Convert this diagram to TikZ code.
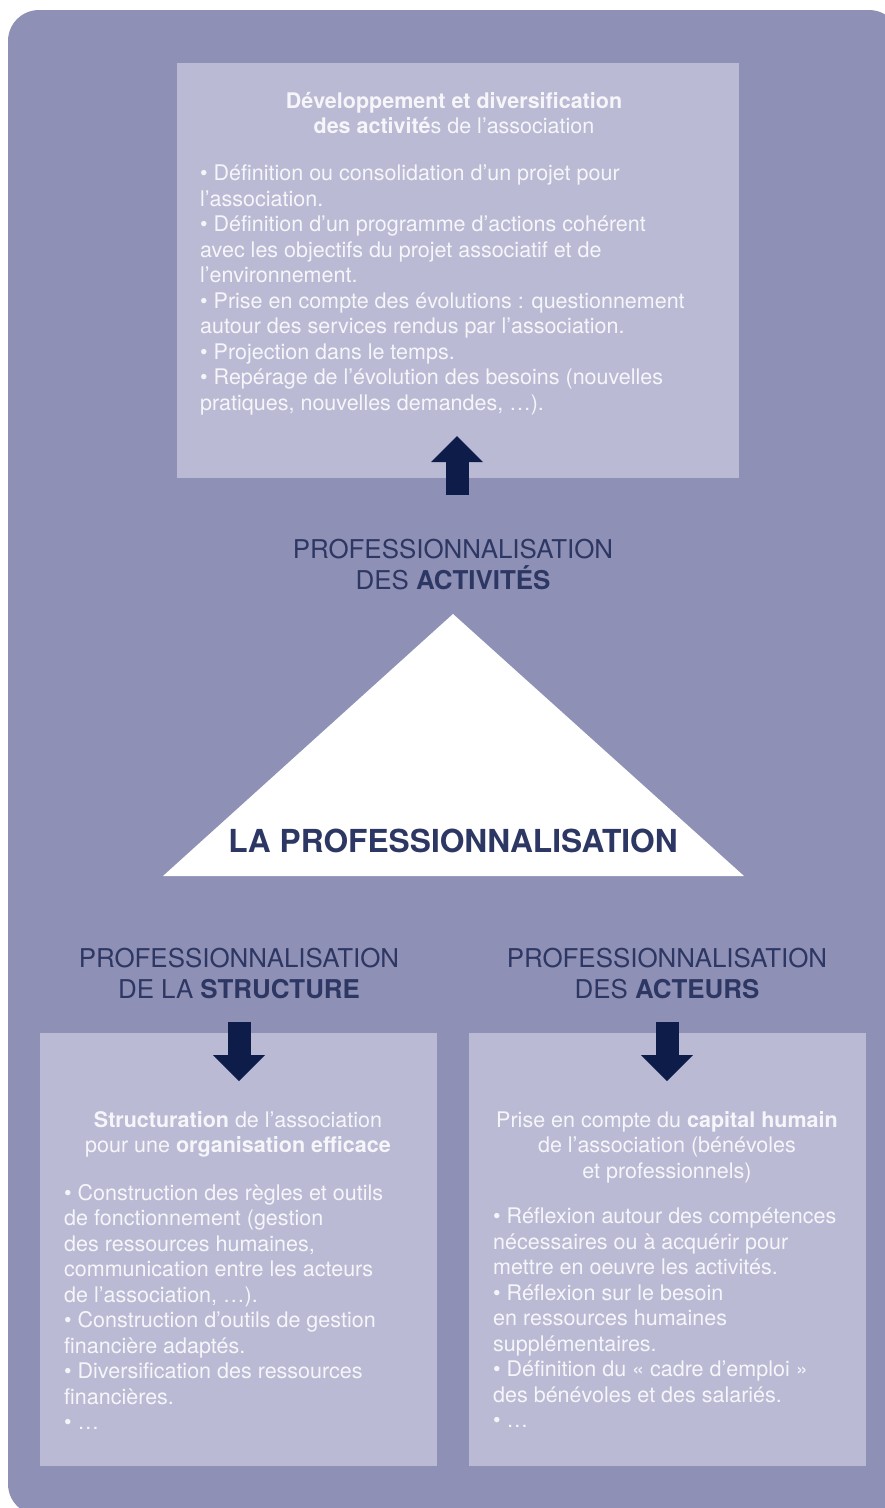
\documentclass[tikz,border=0pt]{standalone}
\usepackage{fontspec}
\setmainfont{TeX Gyre Heros}
\usetikzlibrary{arrows.meta}
\definecolor{bgblue}{RGB}{142,144,181}
\definecolor{boxlilac}{RGB}{186,186,212}
\definecolor{paletxt}{RGB}{246,246,250}
\definecolor{navy}{RGB}{14,28,74}
\definecolor{labelnavy}{RGB}{45,55,100}

\begin{document}
\begin{tikzpicture}[x=1pt,y=-1pt,
  panel/.style={fill=boxlilac,anchor=north west,inner sep=0pt},
  bodytxt/.style={text=paletxt,inner sep=0pt,font=\fontsize{21.5pt}{25.5pt}\selectfont},
  labeltxt/.style={text=labelnavy,inner sep=0pt,align=center,font=\fontsize{25.9pt}{30.5pt}\selectfont},
  fatarrow/.style={draw=navy,line width=23pt,-{Triangle[length=26pt,width=52pt,line width=0pt]}}]
\useasboundingbox (0,0) rectangle (885,1508);
\clip (0,0) rectangle (885,1508);
\fill[bgblue,rounded corners=31pt] (8,10) rectangle (900,1515);
\node[panel,minimum width=562pt,minimum height=415pt] (actbox) at (177,63) {};
\node[bodytxt,align=center,anchor=north] (acttitle) at (454,92)
  {\textbf{Développement et diversification}\\\textbf{des activité}s de l’association};
\node[bodytxt,align=left,anchor=north west] (actlist) at (200,165)
  {• Définition ou consolidation d’un projet pour\\
   l’association.\\
   • Définition d’un programme d’actions cohérent\\
   avec les objectifs du projet associatif et de\\
   l’environnement.\\
   • Prise en compte des évolutions : questionnement\\
   autour des services rendus par l’association.\\
   • Projection dans le temps.\\
   • Repérage de l’évolution des besoins (nouvelles\\
   pratiques, nouvelles demandes, …).};
\coordinate (upfoot) at (457,495);
\coordinate (uptip) at (457,436);
\draw[fatarrow] (upfoot) -- (uptip);
\node[labeltxt,anchor=north] (actlabel) at (453,539)
  {PROFESSIONNALISATION\\DES \textbf{ACTIVITÉS}};
\fill[white] (453,614) -- (744,876) -- (163,876) -- cycle;
\node[text=labelnavy,inner sep=0pt,anchor=base,font=\fontsize{31.7pt}{36pt}\selectfont\bfseries] (core) at (453,852)
  {LA PROFESSIONNALISATION};
\node[labeltxt,anchor=north] (structlabel) at (239,948)
  {PROFESSIONNALISATION\\DE LA \textbf{STRUCTURE}};
\node[labeltxt,anchor=north] (actorlabel) at (667,948)
  {PROFESSIONNALISATION\\DES \textbf{ACTEURS}};
\node[panel,minimum width=397pt,minimum height=433pt] (structbox) at (40,1033) {};
\node[panel,minimum width=397pt,minimum height=433pt] (actorbox) at (469,1033) {};
\coordinate (leftfoot) at (239,1022);
\coordinate (lefttip) at (239,1081);
\coordinate (rightfoot) at (667,1022);
\coordinate (righttip) at (667,1081);
\draw[fatarrow] (leftfoot) -- (lefttip);
\draw[fatarrow] (rightfoot) -- (righttip);
\node[bodytxt,align=center,anchor=north] (structtitle) at (238,1111)
  {\textbf{Structuration} de l’association\\pour une \textbf{organisation efficace}};
\node[bodytxt,align=left,anchor=north west] (structlist) at (64,1184)
  {• Construction des règles et outils\\
   de fonctionnement (gestion\\
   des ressources humaines,\\
   communication entre les acteurs\\
   de l’association, …).\\
   • Construction d’outils de gestion\\
   financière adaptés.\\
   • Diversification des ressources\\
   financières.\\
   • …};
\node[bodytxt,align=center,anchor=north] (actortitle) at (667,1111)
  {Prise en compte du \textbf{capital humain}\\de l’association (bénévoles\\et professionnels)};
\node[bodytxt,align=left,anchor=north west] (actorlist) at (493,1208)
  {• Réflexion autour des compétences\\
   nécessaires ou à acquérir pour\\
   mettre en oeuvre les activités.\\
   • Réflexion sur le besoin\\
   en ressources humaines\\
   supplémentaires.\\
   • Définition du « cadre d’emploi »\\
   des bénévoles et des salariés.\\
   • …};
\end{tikzpicture}
\end{document}
